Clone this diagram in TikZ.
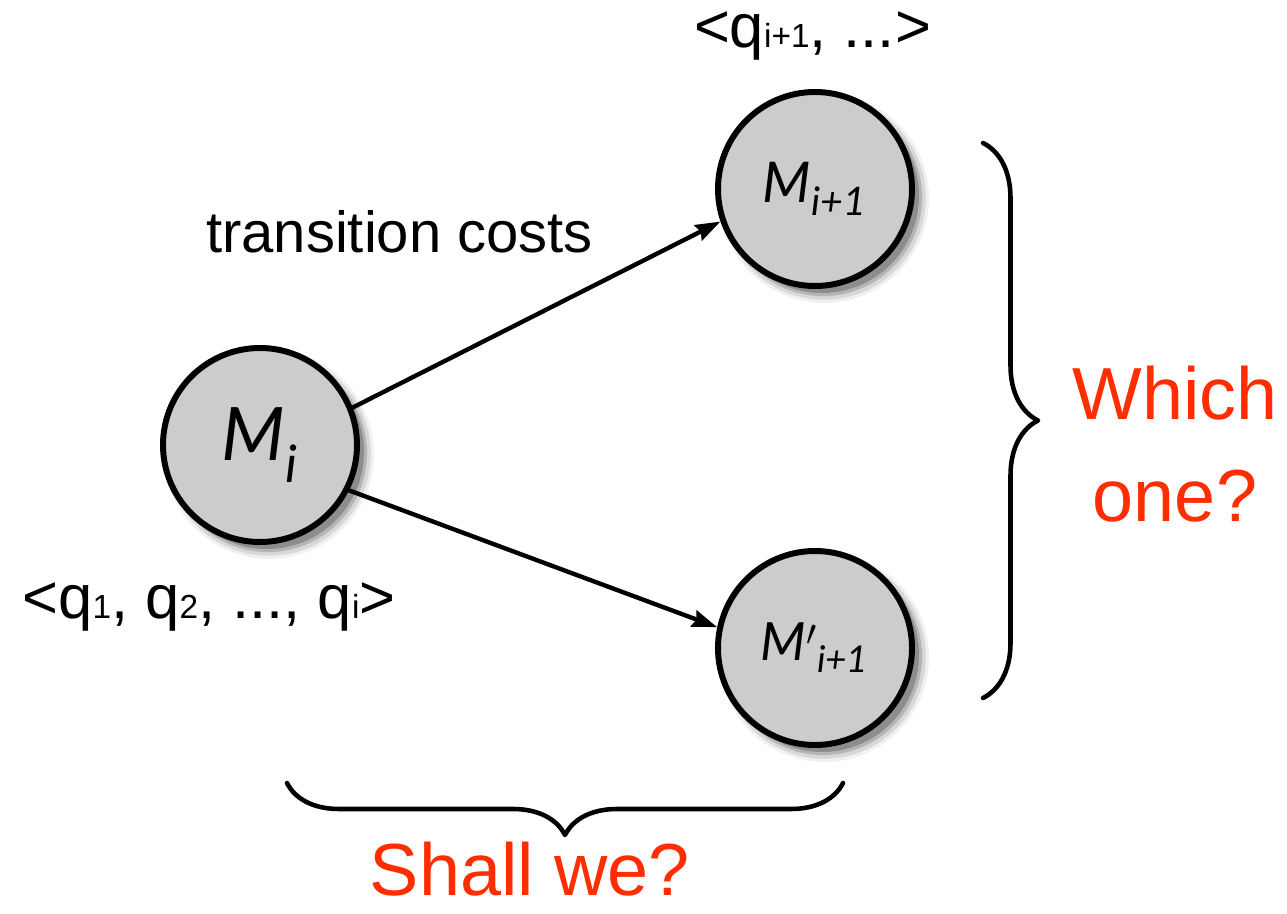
\documentclass[tikz,border=0pt]{standalone}
\usepackage{fontspec}
\setmainfont{Liberation Sans}
\newfontfamily\statefont{Lato}
\usetikzlibrary{arrows.meta, shadows, decorations.pathreplacing}

\definecolor{stategray}{RGB}{204,204,204}
\definecolor{askred}{RGB}{255,45,0}

% small index set on the baseline, as in the tuples
\newcommand{\qidx}[1]{{\fontsize{19}{19}\selectfont #1}}

\begin{document}
\begin{tikzpicture}[>={Stealth[length=0.5cm, width=0.34cm, inset=0.06cm]}, line cap=round, line join=round,
  soft shadow/.style={
    drop shadow={shadow xshift=0.17cm, shadow yshift=-0.17cm, shadow scale=1.08, opacity=0.06, fill=black},
    drop shadow={shadow xshift=0.17cm, shadow yshift=-0.17cm, shadow scale=1.05, opacity=0.10, fill=black},
    drop shadow={shadow xshift=0.16cm, shadow yshift=-0.16cm, shadow scale=1.02, opacity=0.16, fill=black},
    drop shadow={shadow xshift=0.14cm, shadow yshift=-0.14cm, shadow scale=1.00, opacity=0.22, fill=black}},
  state/.style={circle, draw, line width=3.4pt, fill=stategray, minimum size=3.88cm, inner sep=0pt, soft shadow},
  tuple/.style={font=\fontsize{35}{38}\selectfont},
  ask/.style={text=askred, font=\fontsize{42}{58}\selectfont, align=center, inner sep=1pt},
  bracket/.style={decorate, line width=2.6pt}]
  \useasboundingbox (0, 0) rectangle (25.74, 18.26);

  % States
  \node[state, font=\statefont\itshape\fontsize{42}{50}\selectfont] (Mi) at (5.20, 9.36) {M\textsubscript{i}};
  \node[state, font=\statefont\itshape\fontsize{32}{40}\selectfont] (Mnext) at (16.30, 14.48) {M\textsubscript{i+1}};
  \node[state, font=\statefont\itshape\fontsize{30}{38}\selectfont] (Malt) at (16.30, 5.30) {M$'$\textsubscript{i+1}};

  % Transitions
  \draw[->, line width=2.5pt] (Mi.22) -- (Mnext.199);
  \draw[->, line width=2.5pt] (Mi.-27) -- (Malt.168);

  % Texts
  \node[font=\fontsize{33}{36}\selectfont, anchor=base] (cost) at (7.99, 13.20) {transition costs};
  \node[tuple, anchor=base] (hist) at (4.18, 5.90) {<q\qidx{1}, q\qidx{2}, ..., q\qidx{i}>};
  \node[tuple, anchor=base] (rest) at (16.25, 17.30) {<q\qidx{i+1}, ...>};

  % Braces
  \coordinate (rtop) at (19.66, 15.40);
  \coordinate (rbot) at (19.66, 4.30);
  \draw[bracket, decoration={brace, amplitude=1.1cm}] (rtop) -- (rbot);
  \coordinate (bright) at (16.86, 2.60);
  \coordinate (bleft) at (5.74, 2.60);
  \draw[bracket, decoration={brace, amplitude=1.04cm}] (bright) -- (bleft);

  \node[ask] (which) at (23.50, 9.38) {Which\\one?};
  \node[ask, anchor=base] (shall) at (10.60, 0.36) {Shall we?};
\end{tikzpicture}
\end{document}
